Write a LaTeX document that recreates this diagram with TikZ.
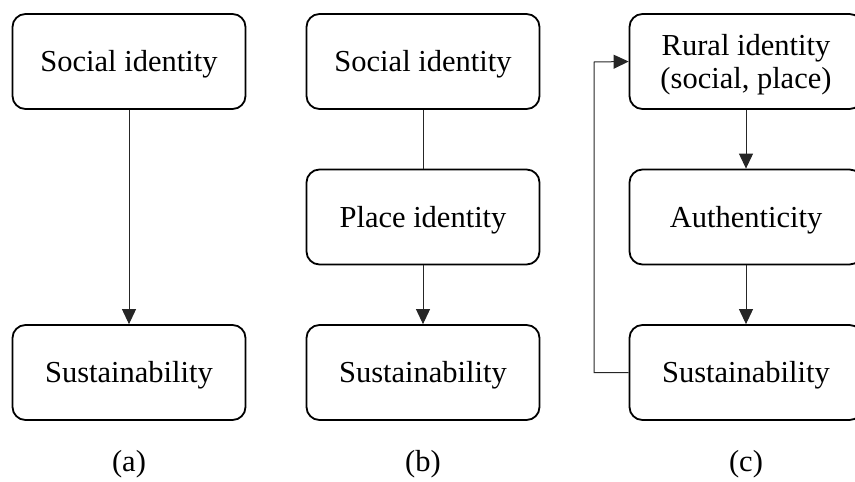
\documentclass[tikz,border=0pt]{standalone}
\usepackage{fontspec}
\setmainfont{Liberation Serif}
\usetikzlibrary{arrows.meta,positioning}
\begin{document}
\begin{tikzpicture}[x=1pt,y=-1pt,
  boxnode/.style={draw,line width=1.8pt,rounded corners=13pt,minimum width=233pt,minimum height=95pt,inner sep=0pt,align=center,text height=21pt,text depth=1pt,font=\fontsize{30.5}{33}\selectfont},
  twoline/.style={text height=54pt,text depth=1pt},
  conn/.style={line width=1pt,draw=black!85},
  arr/.style={conn,-{Triangle[length=15pt,width=14pt]}},
  caplabel/.style={font=\fontsize{30.5}{35}\selectfont}]
\useasboundingbox (0,0) rectangle (855,482);
% column a
\node[boxnode] (a1) at (129,61.5) {Social identity};
\node[boxnode] (a2) at (129,372.5) {Sustainability};
\node[caplabel] (la) at (129,464) {(a)};
% column b
\node[boxnode] (b1) at (423,61.5) {Social identity};
\node[boxnode] (b2) at (423,217) {Place identity};
\node[boxnode] (b3) at (423,372.5) {Sustainability};
\node[caplabel] (lb) at (423,464) {(b)};
% column c
\node[boxnode,twoline] (c1) at (746,61.5) {Rural identity\\(social, place)};
\node[boxnode] (c2) at (746,217) {Authenticity};
\node[boxnode] (c3) at (746,372.5) {Sustainability};
\node[caplabel] (lc) at (746,464) {(c)};
% connectors
\draw[arr] (a1) -- (a2);
\draw[conn] (b1) -- (b2);
\draw[arr] (b2) -- (b3);
\draw[arr] (c1) -- (c2);
\draw[arr] (c2) -- (c3);
\coordinate (fb1) at (594,372.5);
\coordinate (fb2) at (594,62);
\draw[arr] (c3.west) -- (fb1) -- (fb2) -- (c1.west);
\end{tikzpicture}
\end{document}
